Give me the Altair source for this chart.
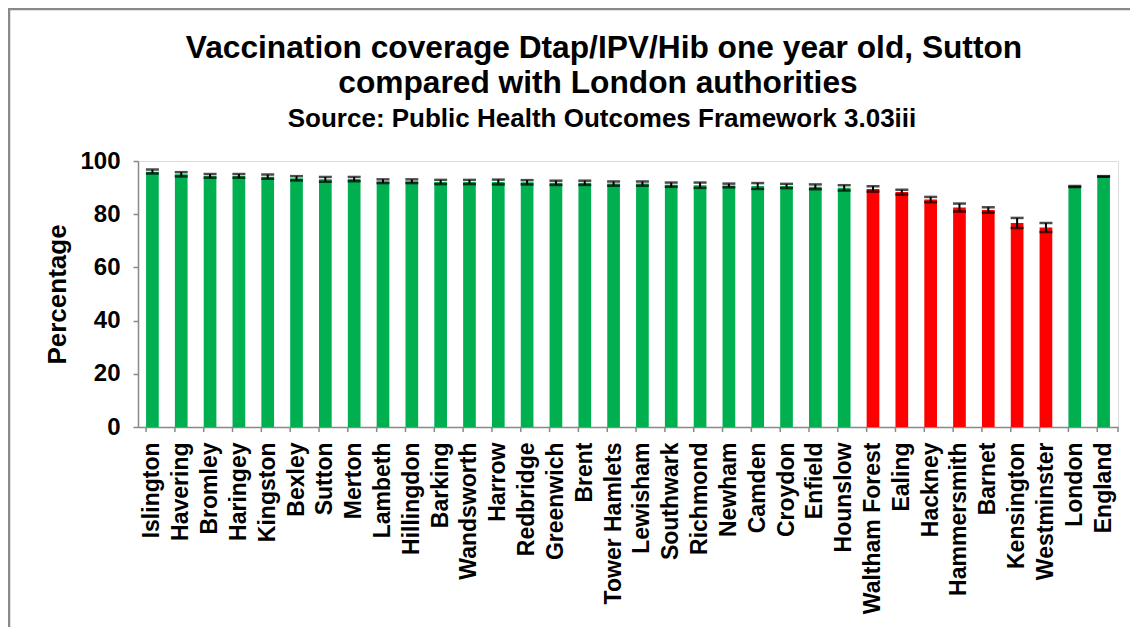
import altair as alt
import pandas as pd

areas = ["Islington", "Havering", "Bromley", "Haringey", "Kingston", "Bexley", "Sutton",
         "Merton", "Lambeth", "Hillingdon", "Barking", "Wandsworth", "Harrow", "Redbridge",
         "Greenwich", "Brent", "Tower Hamlets", "Lewisham", "Southwark", "Richmond", "Newham",
         "Camden", "Croydon", "Enfield", "Hounslow", "Waltham Forest", "Ealing", "Hackney",
         "Hammersmith", "Barnet", "Kensington", "Westminster", "London", "England"]
values = [96.0, 95.0, 94.4, 94.4, 94.1, 93.5, 93.1, 93.2, 92.4, 92.4, 92.1, 92.1, 92.1, 92.0,
          91.8, 91.8, 91.5, 91.5, 91.1, 90.9, 90.8, 90.6, 90.6, 90.3, 89.9, 89.5, 88.3, 85.5,
          82.5, 81.6, 76.7, 75.0, 90.4, 94.2]
lower = [95.3, 94.2, 93.7, 93.7, 93.3, 92.7, 92.2, 92.4, 91.7, 91.7, 91.3, 91.3, 91.2, 91.2,
         91.0, 91.0, 90.7, 90.7, 90.3, 89.9, 90.1, 89.5, 89.8, 89.4, 88.9, 88.5, 87.4, 84.5,
         81.0, 80.6, 74.8, 73.3, 90.2, 94.1]
upper = [96.8, 95.8, 95.1, 95.1, 94.9, 94.3, 94.0, 94.0, 93.1, 93.1, 92.9, 92.9, 93.0, 92.8,
         92.6, 92.6, 92.3, 92.3, 91.9, 91.9, 91.5, 91.7, 91.4, 91.2, 90.9, 90.5, 89.2, 86.5,
         84.0, 82.6, 78.6, 76.7, 90.6, 94.3]
status = ["green"] * 25 + ["red"] * 7 + ["green"] * 2

title_lines = ["Vaccination coverage Dtap/IPV/Hib one year old, Sutton",
               "compared with London authorities"]
subtitle = "Source: Public Health Outcomes Framework 3.03iii"

df = pd.DataFrame({"area": areas, "value": values, "lo": lower, "hi": upper, "status": status})

FONT = "Liberation Sans"
GREY = "#898989"
W, H = 980, 266
xscale = alt.Scale(paddingInner=0.56, paddingOuter=0.28)

label_axis = alt.Axis(title=None, labelAngle=-90, labelFont=FONT,
                      labelFontSize=23, labelFontWeight="bold", labelColor="black",
                      labelPadding=15, ticks=False, domainColor=GREY, domainWidth=1.5,
                      labelOverlap=False)
yaxis = alt.Axis(title="Percentage", values=[0, 20, 40, 60, 80, 100], grid=False,
                 labelFont=FONT, labelFontSize=24, labelFontWeight="bold", labelColor="black",
                 labelPadding=13, tickSize=5, tickColor=GREY, tickWidth=1.5,
                 domainColor=GREY, domainWidth=1.5, titleFont=FONT, titleFontSize=26,
                 titleFontWeight="bold", titleColor="black", titlePadding=9)

base = alt.Chart(df)

bars = base.mark_bar().encode(
    x=alt.X("area:N", sort=None, scale=xscale, axis=label_axis),
    y=alt.Y("value:Q", scale=alt.Scale(domain=[0, 100], nice=False), axis=yaxis),
    color=alt.Color("status:N", scale=alt.Scale(domain=["green", "red"],
                                                range=["#00B050", "#FF0000"]), legend=None),
)
err = base.mark_rule(color="black", strokeWidth=2).encode(
    x=alt.X("area:N", sort=None), y=alt.Y("lo:Q"), y2="hi:Q")
cap_lo = base.mark_tick(color="black", thickness=2.5, size=13).encode(
    x=alt.X("area:N", sort=None), y=alt.Y("lo:Q"))
cap_hi = base.mark_tick(color="black", thickness=2.5, size=13).encode(
    x=alt.X("area:N", sort=None), y=alt.Y("hi:Q"))
# category-boundary tick marks (Excel style)
xticks = base.mark_rule(color=GREY, strokeWidth=1.5).encode(
    x=alt.X("area:N", sort=None, bandPosition=0), y=alt.value(H), y2=alt.value(H + 5))

one = alt.Data(values=[{"k": 1}])
end_tick = alt.Chart(one).mark_rule(color=GREY, strokeWidth=1.5).encode(
    x=alt.value(W), y=alt.value(H), y2=alt.value(H + 5))
frame_left = alt.Chart(one).mark_rule(color=GREY, strokeWidth=2.5).encode(
    x=alt.value(-129), y=alt.value(-153), y2=alt.value(800))
frame_top = alt.Chart(one).mark_rule(color=GREY, strokeWidth=2.5).encode(
    x=alt.value(-130), x2=alt.value(1400), y=alt.value(-152))

t1 = alt.Chart(one).mark_text(font=FONT, fontSize=31.7, fontWeight="bold", color="black",
                              align="center", baseline="alphabetic").encode(
    x=alt.value(466), y=alt.value(-103), text=alt.value(title_lines[0]))
t2 = alt.Chart(one).mark_text(font=FONT, fontSize=31.7, fontWeight="bold", color="black",
                              align="center", baseline="alphabetic").encode(
    x=alt.value(460), y=alt.value(-68), text=alt.value(title_lines[1]))
t3 = alt.Chart(one).mark_text(font=FONT, fontSize=26, fontWeight="bold", color="black",
                              align="center", baseline="alphabetic").encode(
    x=alt.value(464), y=alt.value(-34), text=alt.value(subtitle))

chart = alt.layer(frame_left, frame_top, bars, err, cap_lo, cap_hi, xticks, end_tick,
                  t1, t2, t3).properties(
    width=W, height=H,
    autosize=alt.AutoSizeParams(type="none"),
    padding={"left": 130, "top": 153, "right": 12, "bottom": 200},
).configure_view(stroke=None).configure(background="white")

chart.save("out.html", embed_options={"renderer": "svg", "actions": False})
